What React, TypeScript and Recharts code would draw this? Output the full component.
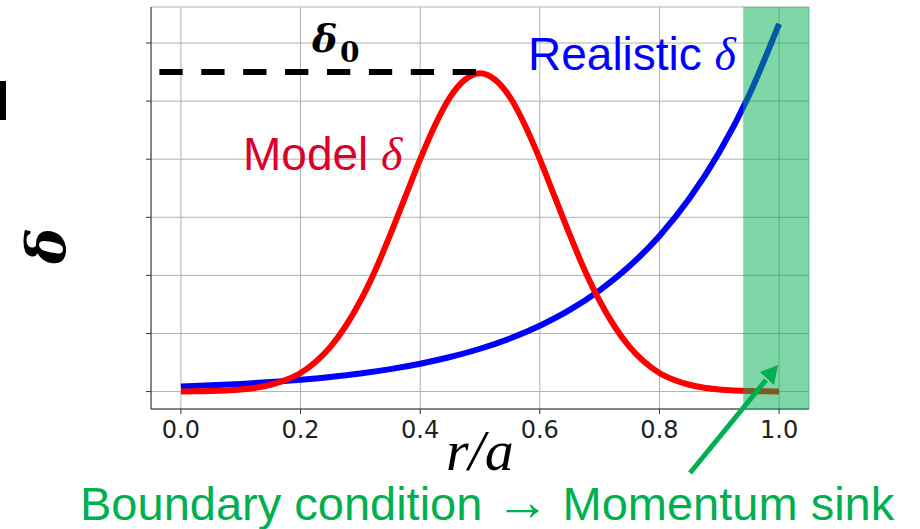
import { LineChart, Line, XAxis, YAxis, CartesianGrid, ReferenceArea, ReferenceLine } from "recharts";

// model delta (red)
const modelR = [0, 0.025, 0.05, 0.075, 0.1, 0.125, 0.15, 0.175, 0.2, 0.225, 0.25, 0.275, 0.3, 0.325, 0.35, 0.375, 0.4, 0.425, 0.45, 0.475, 0.5, 0.525, 0.55, 0.575, 0.6, 0.625, 0.65, 0.675, 0.7, 0.725, 0.75, 0.775, 0.8, 0.825, 0.85, 0.875, 0.9, 0.925, 0.95, 0.975, 1.0];
const modelDelta = [0.002, 0.004, 0.009, 0.019, 0.036, 0.066, 0.117, 0.2, 0.32, 0.51, 0.77, 1.12, 1.56, 2.09, 2.7, 3.35, 4.0, 4.59, 5.07, 5.37, 5.48, 5.37, 5.07, 4.59, 4.0, 3.35, 2.7, 2.09, 1.56, 1.12, 0.77, 0.51, 0.32, 0.2, 0.117, 0.066, 0.036, 0.019, 0.009, 0.004, 0.002];

// realistic delta (blue)
const realR = [0, 0.05, 0.1, 0.15, 0.2, 0.25, 0.3, 0.35, 0.4, 0.45, 0.5, 0.55, 0.6, 0.65, 0.7, 0.75, 0.8, 0.85, 0.9, 0.95, 1.0];
const realDelta = [0.086, 0.107, 0.132, 0.164, 0.203, 0.252, 0.312, 0.387, 0.48, 0.595, 0.737, 0.914, 1.134, 1.405, 1.743, 2.16, 2.679, 3.322, 4.118, 5.106, 6.33];

const xTicks = [0, 0.2, 0.4, 0.6, 0.8, 1.0];
const yTicks = [0, 1, 2, 3, 4, 5, 6];
const delta0 = 5.5;

const modelData = modelR.map((r, i) => ({ r, v: modelDelta[i] }));
const realData = realR.map((r, i) => ({ r, v: realDelta[i] }));

const sinkGreen = "#00b050";

export default function App() {
  return (
    <div style={{ position: "absolute", left: 0, top: 0, width: 920, height: 529, background: "#fff" }}>
      <LineChart width={920} height={529} margin={{ top: 7, right: 111, bottom: 0, left: 141 }}>
        <CartesianGrid stroke="#b0b0b0" strokeWidth={1} />
        <XAxis
          dataKey="r"
          type="number"
          domain={[-0.05, 1.05]}
          ticks={xTicks}
          tickFormatter={(v: number) => v.toFixed(1)}
          height={120}
          tickSize={5}
          tickMargin={7}
          stroke="#333"
          tick={{ fill: "#222", fontSize: 24, fontFamily: "DejaVu Sans" }}
          allowDataOverflow
        />
        <XAxis xAxisId="top" orientation="top" type="number" domain={[-0.05, 1.05]} height={0} tick={false} tickLine={false} stroke="#333" />
        <YAxis
          type="number"
          domain={[-0.3, 6.62]}
          ticks={yTicks}
          width={10}
          tickSize={5}
          tickFormatter={() => ""}
          stroke="#333"
          allowDataOverflow
        />
        <YAxis yAxisId="right" orientation="right" type="number" domain={[-0.3, 6.62]} width={0} tick={false} tickLine={false} stroke="#333" />
        <Line data={realData} dataKey="v" type="monotone" stroke="#0000ff" strokeWidth={6} dot={false} isAnimationActive={false} />
        <Line data={modelData} dataKey="v" type="monotone" stroke="#ff0000" strokeWidth={6} dot={false} isAnimationActive={false} />
        <ReferenceLine
          segment={[{ x: -0.036, y: delta0 }, { x: 0.5, y: delta0 }]}
          stroke="#000"
          strokeWidth={6}
          strokeDasharray="23.3 18.6"
          zIndex={600}
        />
        <ReferenceArea x1={0.94} x2={1.05} fill={sinkGreen} fillOpacity={0.5} stroke="none" zIndex={700} />
      </LineChart>
      <svg width={920} height={529} style={{ position: "absolute", left: 0, top: 0, pointerEvents: "none" }}>
        <rect x={0} y={81} width={6} height={39} fill="#000" />
        <text x={312} y={52} fontFamily="DejaVu Serif" fontWeight="bold" fontStyle="italic" fontSize={38} fill="#000">δ</text>
        <text x={340} y={62} fontFamily="DejaVu Serif" fontWeight="bold" fontSize={28} fill="#000">0</text>
        <text x={243} y={170} fontFamily="Liberation Sans" fontSize={46} fill="#dc0028">
          Model <tspan fontFamily="Liberation Serif" fontStyle="italic">δ</tspan>
        </text>
        <text x={528} y={70} fontFamily="Liberation Sans" fontSize={46} fill="#0000ff">
          Realistic <tspan fontFamily="Liberation Serif" fontStyle="italic">δ</tspan>
        </text>
        <text x={65} y={246} transform="rotate(-90 65 246)" textAnchor="middle" fontFamily="DejaVu Serif" fontWeight="bold" fontStyle="italic" fontSize={54} fill="#000">δ</text>
        <text x={446} y={470} fontFamily="Liberation Serif" fontStyle="italic" fontSize={58} fill="#000">r/a</text>
        <line x1={690} y1={473} x2={766} y2={380} stroke={sinkGreen} strokeWidth={5} />
        <polygon points="778,365 760,372 774,385" fill={sinkGreen} />
        <text x={80} y={520} fontFamily="Liberation Sans" fontSize={47} fill={sinkGreen}>
          Boundary condition <tspan fontSize={54}>→</tspan> Momentum sink
        </text>
      </svg>
    </div>
  );
}
